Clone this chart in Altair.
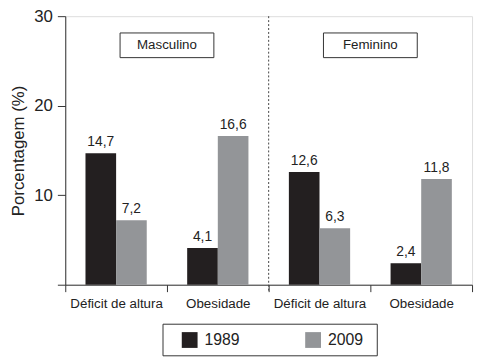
import altair as alt
import pandas as pd

sexes = ["Masculino", "Masculino", "Feminino", "Feminino"]
categories = ["Déficit de altura", "Obesidade", "Déficit de altura", "Obesidade"]
years = ["1989", "2009"]
values_1989 = [14.7, 4.1, 12.6, 2.4]
values_2009 = [7.2, 16.6, 6.3, 11.8]
y_ticks = [0, 10, 20, 30]

keys = [f"{s}|{c}" for s, c in zip(sexes, categories)]
rows = []
for k, a, b in zip(keys, values_1989, values_2009):
    rows.append({"key": k, "year": years[0], "value": a})
    rows.append({"key": k, "year": years[1], "value": b})
df = pd.DataFrame(rows)

FONT = "Liberation Sans"
AX = "#333333"
W, H = 412, 272

xscale = alt.Scale(domain=keys, paddingInner=0, paddingOuter=0)
x_enc = alt.X(
    "key:N",
    scale=xscale,
    sort=keys,
    axis=alt.Axis(
        title=None,
        labelExpr="split(datum.label, '|')[1]",
        labelAngle=0,
        labelFontSize=13.5,
        labelFont=FONT,
        labelColor="#222",
        labelPadding=5,
        tickBand="extent",
        tickSize=7,
        tickColor=AX,
        domainColor=AX,
        labelLimit=200,
    ),
)
y_scale = alt.Scale(domain=[0, 30], nice=False)
y_enc = alt.Y(
    "value:Q",
    scale=y_scale,
    axis=alt.Axis(
        title="Porcentagem (%)",
        values=y_ticks,
        labelExpr="datum.value == 0 ? '' : datum.label",
        labelFontSize=17,
        labelFont=FONT,
        labelColor="#222",
        labelPadding=5,
        tickSize=8,
        tickColor=AX,
        domainColor=AX,
        grid=False,
        titleFont=FONT,
        titleFontSize=17,
        titleFontWeight="normal",
        titleColor="#222",
        titlePadding=6,
    ),
)
xoff = alt.XOffset("year:N", scale=alt.Scale(domain=years, paddingInner=0, paddingOuter=0.66))
color = alt.Color(
    "year:N",
    scale=alt.Scale(domain=years, range=["#231f20", "#939598"]),
    legend=alt.Legend(
        title=None,
        orient="none",
        legendX=99,
        legendY=312,
        direction="horizontal",
        symbolType="square",
        symbolSize=256,
        symbolStrokeWidth=0,
        symbolOpacity=1,
        labelFontSize=16,
        labelFont=FONT,
        labelColor="#222",
        labelOffset=7,
        columnPadding=55,
        padding=8,
        symbolOffset=11,
    ),
)

base = alt.Chart(df)
bars = base.mark_bar(stroke=None).encode(x=x_enc, xOffset=xoff, y=y_enc, color=color)
labels = base.transform_calculate(
    lbl="replace(format(datum.value, '.1f'), '.', ',')"
).mark_text(baseline="bottom", dy=-4, fontSize=14, font=FONT, color="#222").encode(
    x=alt.X("key:N", scale=xscale, sort=keys), xOffset=xoff, y=alt.Y("value:Q", scale=y_scale), text="lbl:N"
)

divider = alt.Chart(pd.DataFrame({"key": [keys[2]]})).mark_rule(
    color="#444", strokeDash=[2, 2], strokeWidth=1
).encode(
    x=alt.X("key:N", scale=xscale, sort=keys, bandPosition=0),
    y=alt.value(0),
    y2=alt.value(H + 7),
)

ann = pd.DataFrame({"key": [keys[1], keys[3]], "name": ["Masculino", "Feminino"]})
boxes = alt.Chart(ann).mark_point(
    shape="M-1,-0.263L1,-0.263L1,0.263L-1,0.263Z",
    size=95 * 95,
    filled=False,
    stroke="#333",
    strokeWidth=1,
    opacity=1,
).encode(x=alt.X("key:N", scale=xscale, sort=keys, bandPosition=0), y=alt.value(29.5))
box_text = alt.Chart(ann).mark_text(fontSize=13.5, font=FONT, color="#222").encode(
    x=alt.X("key:N", scale=xscale, sort=keys, bandPosition=0), y=alt.value(29.5), text="name:N"
)

# frame around the legend
legend_frame = alt.Chart(pd.DataFrame({"k": [0]})).mark_rect(
    fill=None, stroke=AX, strokeWidth=1
).encode(
    x=alt.value(99), x2=alt.value(316), y=alt.value(312), y2=alt.value(344)
)

chart = (
    alt.layer(bars, labels, divider, boxes, box_text, legend_frame)
    .properties(
        width=W,
        height=H,
        autosize=alt.AutoSizeParams(type="none"),
        padding={"left": 58, "top": 6, "right": 4, "bottom": 76},
    )
    .configure_view(stroke=AX, strokeWidth=1)
    .configure(background="white")
)
chart.save("out.html", embed_options={"renderer": "svg", "actions": False})
